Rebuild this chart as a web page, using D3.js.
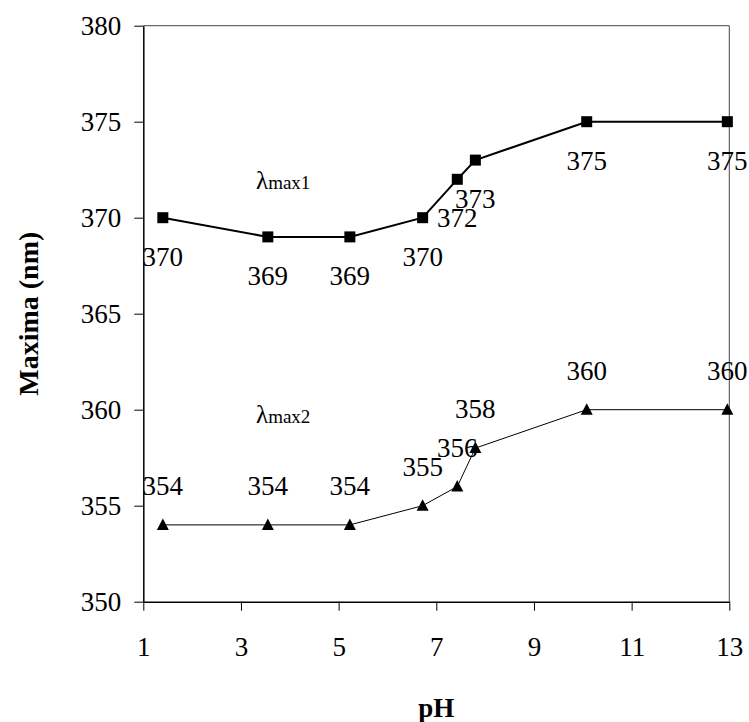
<!DOCTYPE html>
<html>
<head>
<meta charset="utf-8">
<script src="https://cdn.jsdelivr.net/npm/d3@7"></script>
<style>
	body { margin: 0; background: #fff; }
	text { font-family: "Liberation Serif", "Times New Roman", serif; fill: #000; }
</style>
</head>
<body>
<script>
var pH = [1.4, 3.55, 5.23, 6.72, 7.43, 7.8, 10.08, 12.96];
var lambdaMax1 = [370, 369, 369, 370, 372, 373, 375, 375];
var lambdaMax2 = [354, 354, 354, 355, 356, 358, 360, 360];
var xTicks = [1, 3, 5, 7, 9, 11, 13];
var yTicks = [350, 355, 360, 365, 370, 375, 380];

(function(){
	var width = 749, height = 722;
	var left = 143.3, right = 729.3, top = 25.7, bottom = 601.7;

	var svg = d3.select("body")
			.append("svg")
			.attr("width", width)
			.attr("height", height);

	var x = d3.scaleLinear().domain([1, 13]).range([left, right]);
	var y = d3.scaleLinear().domain([350, 380]).range([bottom, top]);

	// top and right frame
	svg.append("path")
			.attr("d", "M " + left + " " + top + " L " + right + " " + top + " L " + right + " " + bottom)
			.attr("fill", "none")
			.attr("stroke", "#444")
			.attr("stroke-width", 1);

	var xAxis = svg.append("g")
			.attr("transform", "translate(0," + bottom + ")")
			.call(d3.axisBottom(x).tickValues(xTicks).tickSize(9).tickSizeOuter(0));
	var yAxis = svg.append("g")
			.attr("transform", "translate(" + left + ",0)")
			.call(d3.axisLeft(y).tickValues(yTicks).tickSize(9).tickSizeOuter(0));

	[xAxis, yAxis].forEach(function(a) {
		a.select(".domain").attr("stroke", "#000").attr("stroke-width", 1.5);
		a.selectAll(".tick line").attr("stroke", "#000").attr("stroke-width", 1);
		a.selectAll(".tick text")
			.style("font-family", '"Liberation Serif", serif')
			.style("font-size", "27px")
			.attr("fill", "#000");
	});
	xAxis.selectAll(".tick text").attr("dy", "0.71em").attr("y", 35);
	yAxis.selectAll(".tick text").attr("x", -22).attr("dy", "0.34em");

	// axis titles
	svg.append("text")
			.attr("x", (left + right) / 2)
			.attr("y", 717)
			.attr("text-anchor", "middle")
			.style("font-size", "27px")
			.style("font-weight", "bold")
			.text("pH");
	svg.append("text")
			.attr("transform", "translate(38," + ((top + bottom) / 2) + ") rotate(-90)")
			.attr("text-anchor", "middle")
			.style("font-size", "28px")
			.style("font-weight", "bold")
			.text("Maxima (nm)");

	var line = d3.line()
			.x(function(d) { return x(d[0]); })
			.y(function(d) { return y(d[1]); });

	var data1 = pH.map(function(p, i) { return [p, lambdaMax1[i]]; });
	var data2 = pH.map(function(p, i) { return [p, lambdaMax2[i]]; });

	svg.append("path")
			.attr("d", line(data1))
			.attr("fill", "none")
			.attr("stroke", "#000")
			.attr("stroke-width", 2);
	svg.append("path")
			.attr("d", line(data2))
			.attr("fill", "none")
			.attr("stroke", "#000")
			.attr("stroke-width", 1);

	svg.selectAll(".sq")
			.data(data1)
			.enter().append("rect")
			.attr("x", function(d) { return x(d[0]) - 5.5; })
			.attr("y", function(d) { return y(d[1]) - 5.5; })
			.attr("width", 11)
			.attr("height", 11)
			.attr("fill", "#000");

	svg.selectAll(".tri")
			.data(data2)
			.enter().append("path")
			.attr("transform", function(d) { return "translate(" + x(d[0]) + "," + y(d[1]) + ")"; })
			.attr("d", "M 0 -6.5 L 6 5 L -6 5 Z")
			.attr("fill", "#000");

	// value labels
	svg.selectAll(".lab1")
			.data(data1)
			.enter().append("text")
			.attr("x", function(d) { return x(d[0]); })
			.attr("y", function(d) { return y(d[1]) + 48; })
			.attr("text-anchor", "middle")
			.style("font-size", "27px")
			.text(function(d) { return d[1]; });
	svg.selectAll(".lab2")
			.data(data2)
			.enter().append("text")
			.attr("x", function(d) { return x(d[0]); })
			.attr("y", function(d) { return y(d[1]) - 30; })
			.attr("text-anchor", "middle")
			.style("font-size", "27px")
			.text(function(d) { return d[1]; });

	// series names
	var names = [["1", 189.3], ["2", 423.3]];
	names.forEach(function(n) {
		var t = svg.append("text")
				.attr("x", 256)
				.attr("y", n[1]);
		t.append("tspan").style("font-size", "25px").text("λ");
		t.append("tspan").style("font-size", "19px").text("max" + n[0]);
	});
})();
</script>
</body>
</html>
